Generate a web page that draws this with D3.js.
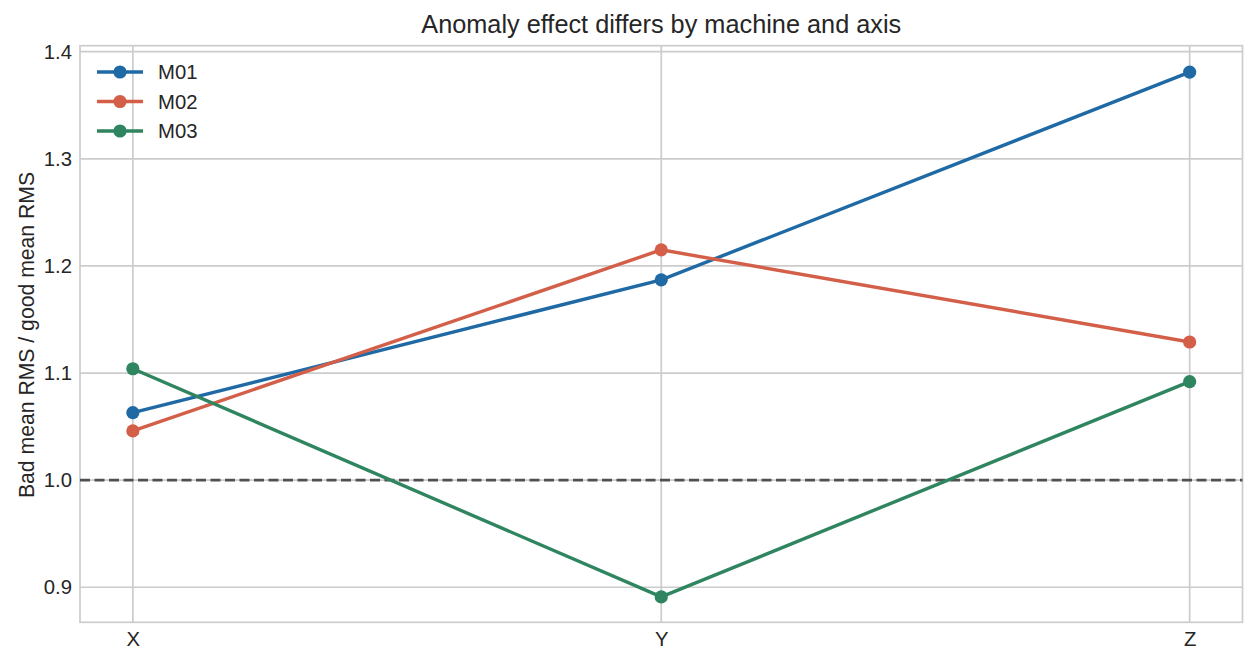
<!DOCTYPE html>
<html><head><meta charset="utf-8">
<script src="https://cdn.jsdelivr.net/npm/d3@7"></script>
<style>body{margin:0;background:#fff;}svg{display:block;font-family:"Liberation Sans",Arial,sans-serif;}</style>
</head><body>
<svg id="c" width="1257" height="665"></svg>
<script>
const categories = ["X","Y","Z"];
const seriesNames = ["M01","M02","M03"];
const m01 = [1.063, 1.187, 1.381];
const m02 = [1.046, 1.215, 1.129];
const m03 = [1.104, 0.891, 1.092];
const colors = ["#1f6aa5","#d35f49","#2e8560"];
const yTicks = [0.9,1.0,1.1,1.2,1.3,1.4];
const refValue = 1.0;
const series = [m01,m02,m03];

const svg = d3.select("#c");
const L=80,R=1242.5,T=45.7,B=622.3;
const x = d3.scaleLinear().domain([-0.1,2.1]).range([L,R]);
const y = d3.scaleLinear().domain([0.8673,1.4056]).range([B,T]);
const grid="#cccccc", txt="#262626";
const fs="20.3px";

// grid
svg.append("g").selectAll("line").data(yTicks).join("line")
  .attr("x1",L).attr("x2",R).attr("y1",d=>y(d)).attr("y2",d=>y(d))
  .attr("stroke",grid).attr("stroke-width",1.7);
svg.append("g").selectAll("line").data(categories).join("line")
  .attr("x1",(d,i)=>x(i)).attr("x2",(d,i)=>x(i)).attr("y1",T).attr("y2",B)
  .attr("stroke",grid).attr("stroke-width",1.7);
// spines
svg.append("rect").attr("x",L).attr("y",T).attr("width",R-L).attr("height",B-T)
  .attr("fill","none").attr("stroke",grid).attr("stroke-width",1.7);

// axes
const yAxis = d3.axisLeft(y).tickValues(yTicks).tickFormat(d3.format(".1f")).tickSize(0).tickPadding(8);
const gy = svg.append("g").attr("transform",`translate(${L},0)`).call(yAxis);
gy.select(".domain").remove();
gy.selectAll("text").attr("fill",txt).style("font-size",fs);
const xAxis = d3.axisBottom(x).tickValues([0,1,2]).tickFormat(i=>categories[i]).tickSize(0).tickPadding(9);
const gx = svg.append("g").attr("transform",`translate(0,${B})`).call(xAxis);
gx.select(".domain").remove();
gx.selectAll("text").attr("fill",txt).style("font-size",fs);

// reference line
svg.append("line").attr("x1",L).attr("x2",R).attr("y1",y(refValue)).attr("y2",y(refValue))
  .attr("stroke","#505050").attr("stroke-width",2.6).attr("stroke-dasharray","10,4.5");

// series
const line = d3.line().x((d,i)=>x(i)).y(d=>y(d));
series.forEach((s,k)=>{
  svg.append("path").datum(s).attr("d",line).attr("fill","none")
    .attr("stroke",colors[k]).attr("stroke-width",3.4);
  svg.append("g").selectAll("circle").data(s).join("circle")
    .attr("cx",(d,i)=>x(i)).attr("cy",d=>y(d)).attr("r",6.6).attr("fill",colors[k]);
});

// legend
const lg = svg.append("g");
seriesNames.forEach((n,k)=>{
  const yy = 72 + k*29.5;
  lg.append("line").attr("x1",97).attr("x2",143).attr("y1",yy).attr("y2",yy)
    .attr("stroke",colors[k]).attr("stroke-width",3.4);
  lg.append("circle").attr("cx",120).attr("cy",yy).attr("r",6.6).attr("fill",colors[k]);
  lg.append("text").attr("x",158).attr("y",yy+7).text(n).attr("fill",txt).style("font-size",fs);
});

// title
svg.append("text").attr("x",(L+R)/2).attr("y",33).attr("text-anchor","middle")
  .attr("fill",txt).style("font-size","25.3px").text("Anomaly effect differs by machine and axis");
// y label
svg.append("text").attr("transform",`translate(34,335) rotate(-90)`).attr("text-anchor","middle")
  .attr("fill",txt).style("font-size","21.2px").text("Bad mean RMS / good mean RMS");
</script>
</body></html>
